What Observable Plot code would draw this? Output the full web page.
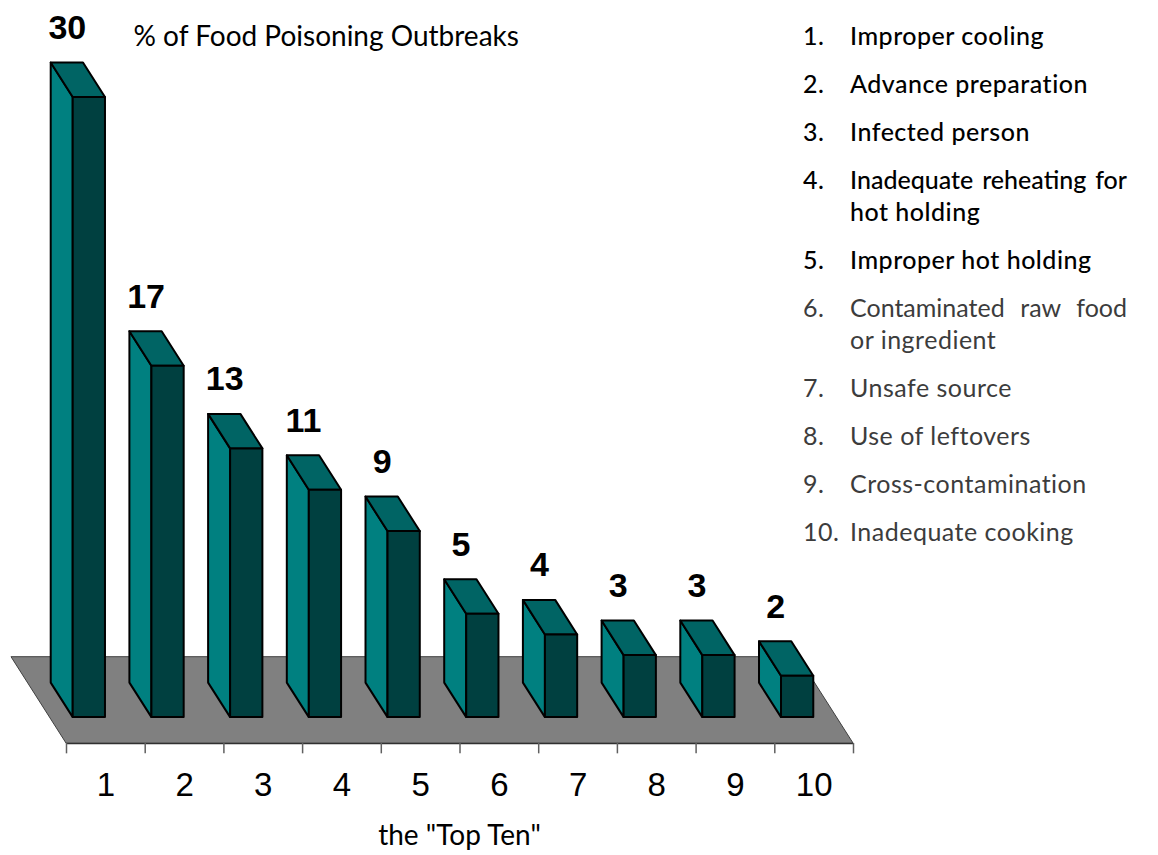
<!DOCTYPE html>
<html>
<head>
<meta charset="utf-8">
<script src="https://cdn.jsdelivr.net/npm/d3@7"></script>
<script src="https://cdn.jsdelivr.net/npm/@observablehq/plot@0.6"></script>
<style>
  html, body { margin: 0; padding: 0; background: #fff; }
  #wrap { position: relative; width: 1158px; height: 855px; }
  #legend { position: absolute; left: 803px; top: 19px; width: 324px;
            font-family: Lato, "Open Sans", sans-serif; font-size: 25px; letter-spacing: 0.5px; }
  .item { display: grid; grid-template-columns: 47px 277px; margin-bottom: 16px; }
  .item .ln { line-height: 32px; white-space: nowrap; }
  .item .just { text-align: justify; text-align-last: justify; letter-spacing: 0; }
  .strong { color: #000; font-weight: 500; }
  .weak { color: #3c3c3c; }
</style>
</head>
<body>
<div id="wrap"><div id="chart"></div><div id="legend"></div></div>
<script>
// ---- data ----
const categories = [1, 2, 3, 4, 5, 6, 7, 8, 9, 10];
const values = [30, 17, 13, 11, 9, 5, 4, 3, 3, 2];
const tickLabels = ["1", "2", "3", "4", "5", "6", "7", "8", "9", "10"];
const causes = [
  ["Improper cooling"],
  ["Advance preparation"],
  ["Infected person"],
  ["Inadequate reheating for", "hot holding"],
  ["Improper hot holding"],
  ["Contaminated raw food", "or ingredient"],
  ["Unsafe source"],
  ["Use of leftovers"],
  ["Cross-contamination"],
  ["Inadequate cooking"]
];
const title = "% of Food Poisoning Outbreaks";
const xTitle = 'the "Top Ten"';

// ---- oblique 3D projection (in data units) ----
const DX = -0.699;   // category units per full floor depth
const DY = 4.175;    // value units per full floor depth
const FRONT = 0.3, BACK = 0.7, W = 0.41;

const bars = categories.map((c, k) => ({c, v: values[k]}));
const sidePts = bars.flatMap(b => [
  {c: b.c, x: b.c - W/2 + DX*BACK, y1: DY*BACK, y2: b.v + DY*BACK},
  {c: b.c, x: b.c - W/2 + DX*FRONT, y1: DY*FRONT, y2: b.v + DY*FRONT}
]);
const topPts = bars.flatMap(b => [
  {c: b.c, y: b.v + DY*BACK, x1: b.c - W/2 + DX*BACK, x2: b.c + W/2 + DX*BACK},
  {c: b.c, y: b.v + DY*FRONT, x1: b.c - W/2 + DX*FRONT, x2: b.c + W/2 + DX*FRONT}
]);
const x0 = categories[0] - 0.5, x1 = categories[categories.length - 1] + 0.5;
const floorPts = [
  {y: 0, x1: x0, x2: x1},
  {y: DY, x1: x0 + DX, x2: x1 + DX}
];
const tickPos = d3.range(x0, x1 + 0.001, 1);

const chart = Plot.plot({
  width: 1158,
  height: 855,
  margin: 0,
  x: {type: "linear", domain: [x0, x1], range: [66, 853], axis: null},
  y: {type: "linear", domain: [0, 30], range: [743, 743 - 30 * 20.67], axis: null},
  marks: [
    Plot.areaX(floorPts, {y: "y", x1: "x1", x2: "x2", fill: "#808080", stroke: "#404040", strokeWidth: 1}),
    Plot.ruleY([0], {x1: x0, x2: x1, stroke: "#303030", strokeWidth: 1.5}),
    Plot.ruleX(tickPos, {x: d => d, y1: 0, y2: -0.5, stroke: "#606060", strokeWidth: 1.5}),
    Plot.areaY(sidePts, {x: "x", y1: "y1", y2: "y2", z: "c", fill: "#008080", stroke: "#000", strokeWidth: 2, strokeLinejoin: "round"}),
    Plot.areaX(topPts, {y: "y", x1: "x1", x2: "x2", z: "c", fill: "#006464", stroke: "#000", strokeWidth: 2, strokeLinejoin: "round"}),
    Plot.rect(bars, {
      x1: d => d.c - W/2 + DX*FRONT, x2: d => d.c + W/2 + DX*FRONT,
      y1: DY*FRONT, y2: d => d.v + DY*FRONT,
      fill: "#004040", stroke: "#000", strokeWidth: 2, strokeLinejoin: "round"
    }),
    Plot.text(bars, {
      x: d => d.c + DX*BACK, y: d => d.v + DY*BACK, text: d => String(d.v),
      dy: -24, lineAnchor: "bottom", textAnchor: "middle",
      fontFamily: "'Liberation Sans Narrow', 'Arial Narrow', 'Liberation Sans', Arial, sans-serif",
      fontWeight: "bold", fontSize: 34, fill: "#000"
    }),
    Plot.text(categories, {
      x: d => d, y: 0, text: (d, k) => tickLabels[k],
      dy: 52, lineAnchor: "bottom", textAnchor: "middle",
      fontFamily: "'Liberation Sans', Arial, sans-serif", fontSize: 33, fill: "#000"
    }),
    Plot.text([title], {
      frameAnchor: "top-left", dx: 133, dy: 45, lineAnchor: "bottom", textAnchor: "start",
      fontFamily: "Lato, 'Open Sans', sans-serif", fontSize: 28, fill: "#000"
    }),
    Plot.text([xTitle], {
      frameAnchor: "top-left", dx: 459, dy: 844, lineAnchor: "bottom", textAnchor: "middle",
      fontFamily: "Lato, 'Open Sans', sans-serif", fontSize: 28, fill: "#000"
    })
  ]
});
document.getElementById("chart").appendChild(chart);

// ---- legend ----
const legend = d3.select("#legend");
causes.forEach((lines, k) => {
  const item = legend.append("div").attr("class", "item " + (k < 5 ? "strong" : "weak"));
  item.append("div").attr("class", "ln").text(`${categories[k]}.`);
  const txt = item.append("div");
  lines.forEach((l, j) => {
    txt.append("div").attr("class", "ln" + (lines.length > 1 && j < lines.length - 1 ? " just" : "")).text(l);
  });
});
</script>
</body>
</html>
